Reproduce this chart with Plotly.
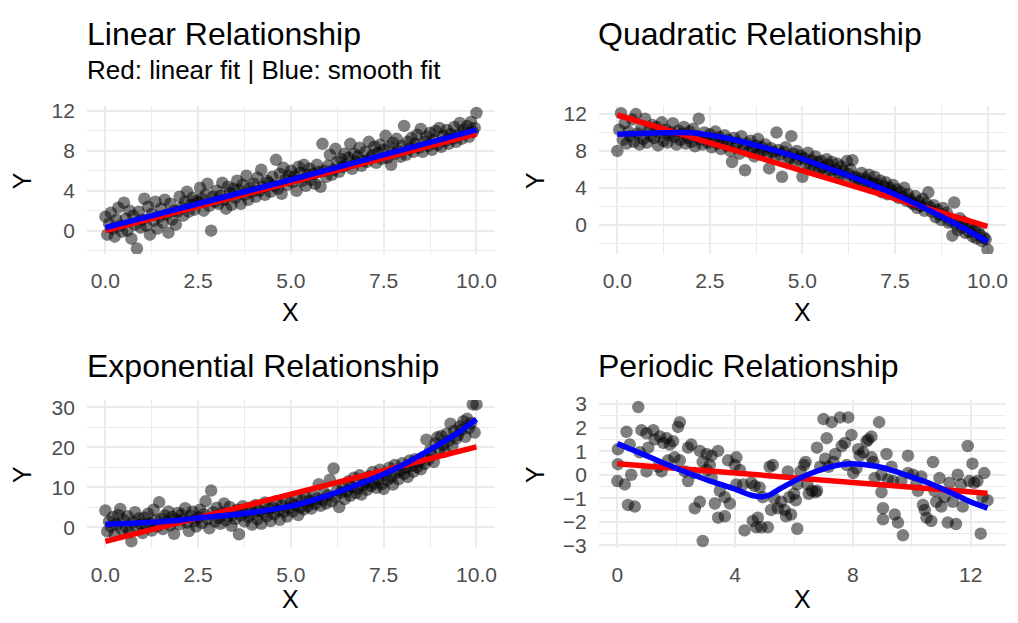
import plotly.graph_objects as go

FONT = "Liberation Sans, Arial, Helvetica, sans-serif"
W, H = 1018, 623

# ---------------- data ----------------
x_grid = [
    0.00, 0.05, 0.10, 0.15, 0.20, 0.25, 0.30, 0.35, 0.40, 0.45,
    0.50, 0.55, 0.60, 0.65, 0.70, 0.75, 0.80, 0.85, 0.90, 0.95,
    1.00, 1.05, 1.10, 1.15, 1.20, 1.25, 1.30, 1.35, 1.40, 1.45,
    1.50, 1.55, 1.60, 1.65, 1.70, 1.75, 1.80, 1.85, 1.90, 1.95,
    2.00, 2.05, 2.10, 2.15, 2.20, 2.25, 2.30, 2.35, 2.40, 2.45,
    2.50, 2.55, 2.60, 2.65, 2.70, 2.75, 2.80, 2.85, 2.90, 2.95,
    3.00, 3.05, 3.10, 3.15, 3.20, 3.25, 3.30, 3.35, 3.40, 3.45,
    3.50, 3.55, 3.60, 3.65, 3.70, 3.75, 3.80, 3.85, 3.90, 3.95,
    4.00, 4.05, 4.10, 4.15, 4.20, 4.25, 4.30, 4.35, 4.40, 4.45,
    4.50, 4.55, 4.60, 4.65, 4.70, 4.75, 4.80, 4.85, 4.90, 4.95,
    5.00, 5.05, 5.10, 5.15, 5.20, 5.25, 5.30, 5.35, 5.40, 5.45,
    5.50, 5.55, 5.60, 5.65, 5.70, 5.75, 5.80, 5.85, 5.90, 5.95,
    6.00, 6.05, 6.10, 6.15, 6.20, 6.25, 6.30, 6.35, 6.40, 6.45,
    6.50, 6.55, 6.60, 6.65, 6.70, 6.75, 6.80, 6.85, 6.90, 6.95,
    7.00, 7.05, 7.10, 7.15, 7.20, 7.25, 7.30, 7.35, 7.40, 7.45,
    7.50, 7.55, 7.60, 7.65, 7.70, 7.75, 7.80, 7.85, 7.90, 7.95,
    8.00, 8.05, 8.10, 8.15, 8.20, 8.25, 8.30, 8.35, 8.40, 8.45,
    8.50, 8.55, 8.60, 8.65, 8.70, 8.75, 8.80, 8.85, 8.90, 8.95,
    9.00, 9.05, 9.10, 9.15, 9.20, 9.25, 9.30, 9.35, 9.40, 9.45,
    9.50, 9.55, 9.60, 9.65, 9.70, 9.75, 9.80, 9.85, 9.90, 9.95,
    10.00,
]

y_linear = [
    1.4, -0.4, 0.7, 1.8, 0.2, -0.6, 1.1, 2.3, 0.5, -0.1,
    2.8, 1.2, 0.0, 2.0, -0.8, 1.5, 0.6, -1.8, 1.9, 0.3,
    1.1, 3.2, 0.5, 2.4, -0.4, 1.7, 1.0, 2.9, 0.2, 1.4,
    2.2, 0.8, 3.1, 1.6, -0.2, 2.7, 1.1, 2.0, 0.6, 1.9,
    3.4, 2.3, 1.5, 2.9, 3.9, 1.9, 2.6, 3.3, 2.1, 3.0,
    2.8, 4.3, 3.2, 2.0, 3.6, 4.7, 2.5, 0.0, 3.4, 2.9,
    4.0, 2.7, 3.5, 4.8, 3.1, 2.2, 4.4, 3.8, 2.6, 4.2,
    3.3, 5.0, 4.1, 2.7, 4.6, 3.6, 5.5, 3.1, 4.3, 3.9,
    4.7, 3.4, 5.3, 4.0, 6.1, 4.4, 3.6, 5.0, 4.8, 3.9,
    5.4, 4.5, 7.1, 4.2, 5.7, 3.7, 6.3, 5.1, 4.6, 5.5,
    6.0, 4.9, 5.4, 4.0, 6.4, 5.8, 5.0, 6.6, 4.5, 5.6,
    6.2, 5.1, 5.7, 4.7, 6.6, 5.9, 4.4, 8.7, 6.0, 5.4,
    6.5, 7.6, 5.6, 6.1, 8.2, 6.9, 5.9, 7.2, 6.4, 7.7,
    6.6, 7.3, 8.7, 6.2, 7.7, 6.9, 7.4, 8.3, 6.5, 7.0,
    7.9, 6.9, 8.9, 7.3, 7.6, 8.4, 6.8, 7.8, 8.6, 7.2,
    8.1, 9.5, 7.3, 8.4, 6.6, 8.8, 7.7, 9.2, 8.0, 7.4,
    8.5, 10.5, 7.6, 8.9, 8.2, 9.3, 7.9, 8.7, 9.6, 8.3,
    10.2, 7.9, 8.9, 9.4, 8.5, 9.8, 8.1, 9.1, 10.0, 8.6,
    10.3, 8.4, 9.5, 9.0, 10.1, 8.7, 9.7, 9.2, 10.4, 8.9,
    9.6, 10.8, 9.2, 10.1, 9.8, 10.5, 9.4, 10.9, 9.9, 10.3,
    11.8,
]

y_quadratic = [
    8.0, 10.3, 12.1, 9.2, 11.0, 8.8, 10.1, 9.6, 11.4, 9.0,
    12.0, 9.9, 8.7, 10.5, 9.3, 11.5, 8.9, 10.2, 9.6, 10.8,
    9.4, 10.6, 8.6, 9.9, 11.1, 9.1, 10.3, 8.9, 9.7, 10.0,
    11.0, 9.5, 8.7, 10.2, 9.2, 9.9, 10.6, 8.8, 9.4, 10.1,
    9.0, 10.4, 8.5, 9.6, 11.5, 9.2, 8.7, 10.0, 9.4, 8.9,
    9.8, 8.4, 9.3, 10.1, 8.8, 9.5, 8.2, 9.0, 9.7, 8.6,
    9.2, 8.0, 6.8, 9.4, 8.5, 8.9, 7.7, 9.6, 8.3, 5.9,
    8.8, 7.9, 9.1, 8.2, 7.4, 8.6, 9.3, 7.8, 8.4, 8.0,
    8.7, 7.5, 6.1, 8.3, 7.9, 7.2, 10.0, 8.1, 7.6, 5.2,
    7.9, 8.4, 6.9, 7.3, 9.6, 7.7, 6.6, 8.0, 7.1, 7.5,
    5.2, 7.2, 6.6, 7.8, 6.3, 7.0, 6.1, 7.4, 6.8, 5.9,
    6.9, 6.2, 5.6, 7.1, 6.5, 5.9, 6.8, 5.3, 6.0, 6.6,
    5.4, 6.3, 5.8, 4.9, 6.9, 5.5, 6.0, 7.0, 5.2, 4.8,
    5.1, 4.6, 5.6, 4.3, 5.0, 4.7, 5.4, 4.0, 4.5, 5.2,
    4.4, 3.9, 4.8, 3.5, 4.2, 4.6, 3.3, 4.0, 3.7, 4.3,
    3.2, 3.8, 2.9, 3.5, 3.0, 4.0, 2.6, 3.3, 2.8, 2.4,
    2.2, 3.1, 1.8, 2.5, 2.0, 2.8, 1.5, 2.3, 3.5, 1.9,
    1.4, 2.1, 0.8, 1.6, 1.1, 0.5, 1.8, 0.9, 1.3, 0.2,
    0.4, -1.2, 2.4, 0.0, -0.6, 0.7, -0.3, 0.3, -0.9, 0.1,
    -0.8, -0.2, -1.3, -0.6, -1.5, -0.4, -1.1, -1.8, -1.4, -1.6,
    -2.7,
]

y_exponential = [
    4.2, -1.0, 1.5, 0.2, 2.6, -1.8, 0.8, 3.1, 4.6, -0.5,
    1.9, 0.0, 2.8, -1.2, -3.5, 1.3, 3.8, -0.6, 2.2, 0.9,
    -1.4, 2.5, 0.6, 3.4, 1.0, -0.8, 4.4, 1.8, 0.3, 6.3,
    2.1, -0.4, 3.0, 1.4, 4.0, 0.5, 2.6, -1.6, 1.9, 3.6,
    0.8, 3.2, 2.0, 4.8, 1.2, -0.9, 2.9, 3.9, 1.6, 0.2,
    2.5, 4.4, 1.1, 3.3, 6.5, 2.0, -0.2, 9.2, 3.8, 1.5,
    4.9, 2.4, 0.9, 3.6, 6.0, 1.8, 2.9, 5.1, 0.4, 3.2,
    2.1, 4.4, -1.7, 3.0, 5.3, 1.5, 3.8, 2.6, 4.9, 0.7,
    3.4, 5.6, 2.0, 4.1, 0.9, 3.7, 6.2, 2.8, 4.6, 1.6,
    5.0, 3.3, 6.5, 4.2, 1.9, 5.5, 3.9, 6.9, 2.7, 4.8,
    6.2, 4.0, 5.6, 7.4, 3.1, 5.0, 6.8, 4.5, 7.7, 5.3,
    6.6, 4.7, 8.1, 5.9, 7.2, 10.8, 5.4, 6.9, 8.6, 6.0,
    8.0, 11.9, 6.5, 14.7, 7.6, 9.3, 5.1, 8.7, 10.2, 7.1,
    9.0, 11.5, 7.9, 10.1, 12.4, 8.6, 9.7, 13.0, 8.2, 10.6,
    11.2, 9.4, 12.7, 10.3, 13.8, 11.0, 9.9, 12.1, 14.4, 10.8,
    9.6, 13.2, 11.8, 14.9, 12.5, 10.7, 15.6, 13.6, 12.0, 14.2,
    16.0, 13.4, 14.8, 12.6, 16.7, 15.3, 13.9, 17.0, 15.0, 16.4,
    14.5, 17.5, 15.8, 21.9, 16.9, 19.2, 18.1, 16.3, 21.0, 22.5,
    19.6, 22.8, 20.5, 18.9, 23.4, 21.6, 25.9, 20.3, 24.1, 22.2,
    23.0, 25.2, 24.4, 26.5, 22.6, 27.1, 24.8, 26.0, 30.7, 23.7,
    30.7,
]

x_periodic = [
    0.71, 0.31, 0.02, 0.02, 0.00, 0.25, 0.47, 0.42, 0.36, 0.59,
    0.82, 0.99, 1.05, 1.22, 1.27, 0.99, 0.76, 1.45, 1.56, 1.67,
    1.78, 1.50, 1.39, 1.72, 1.89, 2.06, 2.12, 1.94, 2.12, 2.29,
    2.40, 2.51, 2.63, 2.40, 2.80, 2.90, 3.03, 3.14, 3.20, 3.42,
    2.63, 2.80, 2.90, 3.03, 3.20, 3.31, 3.42, 3.65, 3.48, 3.65,
    3.82, 3.76, 4.04, 3.99, 4.16, 4.04, 4.27, 4.32, 4.55, 4.66,
    4.60, 4.77, 4.72, 4.89, 5.11, 4.83, 4.94, 5.17, 5.28, 5.22,
    5.33, 5.45, 5.56, 5.68, 5.73, 5.79, 5.84, 5.90, 6.00, 6.06,
    6.11, 6.11, 6.22, 6.34, 6.39, 6.45, 6.50, 6.61, 6.73, 6.78,
    6.78, 6.89, 7.00, 7.06, 7.11, 7.17, 7.28, 7.34, 7.40, 7.56,
    7.62, 7.73, 7.79, 7.84, 7.95, 8.01, 8.12, 8.18, 8.23, 8.35,
    8.46, 8.52, 8.63, 8.63, 8.69, 8.74, 8.89, 8.97, 8.97, 9.02,
    9.02, 9.14, 9.19, 9.31, 9.36, 9.42, 9.53, 9.64, 9.70, 9.87,
    9.87, 10.04, 10.15, 10.21, 10.32, 10.38, 10.44, 10.50, 10.66, 10.72,
    10.77, 10.83, 10.94, 11.00, 11.11, 11.22, 11.28, 11.39, 11.50, 11.56,
    11.67, 11.73, 11.90, 11.95, 12.06, 12.12, 12.23, 12.34, 12.40, 12.46,
    12.57,
]

y_periodic = [
    2.87, 1.82, 1.08, 0.45, -0.27, -0.41, 0.00, 1.28, -1.28, -1.35,
    1.89, 1.76, 1.15, 1.89, 1.50, 0.14, 0.95, 1.62, 1.35, 1.55,
    1.28, 0.14, 0.34, 0.61, 1.42, 2.03, 2.23, 0.74, 0.61, 0.14,
    -0.27, 1.28, 0.07, 1.15, 1.01, 0.54, 0.88, 0.41, 0.81, 1.01,
    -1.42, -1.15, -2.81, 0.20, -0.14, -1.22, -1.82, -1.76, -0.68, -0.95,
    -1.22, 0.61, 0.74, 0.41, 0.20, -0.41, -0.41, -2.36, -0.34, -0.47,
    -1.96, -1.82, -2.23, -2.23, -2.23, -0.54, -0.95, 0.34, 0.41, -1.49,
    -1.01, -1.42, -1.15, -1.49, -1.76, 0.14, -0.95, -1.69, -0.81, -1.08,
    -2.29, -0.41, 0.14, 0.41, 0.54, -0.41, -0.81, -0.68, -0.74, -0.68,
    1.15, 0.34, 2.36, 0.68, 1.55, 0.34, 2.23, 0.54, 0.88, 2.43,
    1.22, 1.35, 0.41, 2.43, 1.69, 0.07, 0.27, 1.08, 0.81, 0.95,
    1.42, 1.49, 1.62, 0.74, 0.54, -0.14, 2.23, 0.00, -0.74, -1.42,
    -1.89, 0.88, -0.20, 0.34, -0.27, -1.69, -2.03, -0.27, -2.57, 0.81,
    0.07, 0.00, -0.41, -0.68, -0.07, -1.28, -1.49, -1.82, -1.96, 0.54,
    -0.68, -1.15, -0.14, -1.35, -0.95, -2.03, -0.34, -1.15, -2.09, 0.00,
    -0.41, -1.35, 1.22, -0.27, 0.47, -0.34, -0.27, -2.50, -0.95, 0.07,
    -1.08,
]

# fitted lines (red = linear fit, blue = smooth fit)
lin_fit_x = [0, 10]
lin_fit_y = [0.0, 9.7]
lin_smooth_x = [0, 2.5, 5, 7.5, 10]
lin_smooth_y = [0.3, 2.7, 5.1, 7.6, 10.1]

quad_fit_x = [0, 10]
quad_fit_y = [11.9, -0.2]
quad_smooth_x = [0, 1, 2, 3, 3.75, 5, 5.55, 6.5, 7.35, 8.2, 9.15, 10]
quad_smooth_y = [9.8, 9.95, 9.98, 9.35, 8.6, 7.15, 6.34, 4.95, 3.55, 2.0, 0.07, -1.85]

exp_fit_x = [0, 10]
exp_fit_y = [-3.5, 20.1]
exp_smooth_x = [0, 1, 2, 2.5, 3, 4, 5, 6, 7, 7.5, 8, 8.75, 9.5, 10]
exp_smooth_y = [0.74, 1.15, 1.8, 2.4, 2.8, 3.8, 5.3, 8.0, 11.4, 13.3, 15.5, 19.4, 23.6, 27.0]

per_fit_x = [0, 12.57]
per_fit_y = [0.47, -0.78]
per_smooth_x = [0, 0.5, 1, 1.5, 2, 2.5, 3, 3.5, 4.0, 4.3, 4.55, 4.87, 5.15, 5.56, 6.0, 6.5,
                7.0, 7.5, 7.9, 8.3, 8.8, 9.3, 9.9, 10.4, 10.9, 11.5, 12.0, 12.57]
per_smooth_y = [1.32, 1.06, 0.80, 0.53, 0.27, 0.03, -0.20, -0.41, -0.61, -0.76, -0.87, -0.93,
                -0.87, -0.57, -0.27, 0.02, 0.25, 0.41, 0.47, 0.45, 0.36, 0.20, -0.05, -0.27,
                -0.52, -0.86, -1.15, -1.42]

# tick labels
ticks_x10 = [0, 2.5, 5, 7.5, 10]
ticks_x10_text = ["0.0", "2.5", "5.0", "7.5", "10.0"]
ticks_y12 = [0, 4, 8, 12]
ticks_y30 = [0, 10, 20, 30]
ticks_xper = [0, 4, 8, 12]
ticks_yper = [-3, -2, -1, 0, 1, 2, 3]
ticks_yper_text = ["\u22123", "\u22122", "\u22121", "0", "1", "2", "3"]

# ---------------- layout geometry ----------------
col_dom = [[87 / W, 496 / W], [600 / W, 1008 / W]]
row_dom = [[1 - 253 / H, 1 - 101 / H], [1 - 555 / H, 1 - 403 / H]]

panels = [
    dict(x=x_grid, y=y_linear, fx=lin_fit_x, fy=lin_fit_y, sx=lin_smooth_x, sy=lin_smooth_y,
         row=0, col=0, xr=[-0.5, 10.5], yr=[-2.35, 12.47],
         xt=ticks_x10, xtt=ticks_x10_text, xm=[1.25, 3.75, 6.25, 8.75],
         yt=ticks_y12, ytt=[str(v) for v in ticks_y12], ym=[-2, 2, 6, 10]),
    dict(x=x_grid, y=y_quadratic, fx=quad_fit_x, fy=quad_fit_y, sx=quad_smooth_x, sy=quad_smooth_y,
         row=0, col=1, xr=[-0.5, 10.5], yr=[-3.2, 12.85],
         xt=ticks_x10, xtt=ticks_x10_text, xm=[1.25, 3.75, 6.25, 8.75],
         yt=ticks_y12, ytt=[str(v) for v in ticks_y12], ym=[-2, 2, 6, 10]),
    dict(x=x_grid, y=y_exponential, fx=exp_fit_x, fy=exp_fit_y, sx=exp_smooth_x, sy=exp_smooth_y,
         row=1, col=0, xr=[-0.5, 10.5], yr=[-5.1, 31.8],
         xt=ticks_x10, xtt=ticks_x10_text, xm=[1.25, 3.75, 6.25, 8.75],
         yt=ticks_y30, ytt=[str(v) for v in ticks_y30], ym=[-5, 5, 15, 25]),
    dict(x=x_periodic, y=y_periodic, fx=per_fit_x, fy=per_fit_y, sx=per_smooth_x, sy=per_smooth_y,
         row=1, col=1, xr=[-0.63, 13.2], yr=[-3.1, 3.17],
         xt=ticks_xper, xtt=[str(v) for v in ticks_xper], xm=[2, 6, 10],
         yt=ticks_yper, ytt=ticks_yper_text, ym=[-2.5, -1.5, -0.5, 0.5, 1.5, 2.5]),
]

GRID = "#EBEBEB"
TICKFONT = dict(family=FONT, size=21, color="#4D4D4D")

fig = go.Figure()
layout_axes = {}
for i, p in enumerate(panels, start=1):
    xa = "x" if i == 1 else f"x{i}"
    ya = "y" if i == 1 else f"y{i}"
    fig.add_trace(go.Scatter(
        x=p["x"], y=p["y"], mode="markers", xaxis=xa, yaxis=ya,
        marker=dict(size=12.5, color="rgba(0,0,0,0.5)", line=dict(width=0)),
        showlegend=False, hoverinfo="x+y"))
    fig.add_trace(go.Scatter(
        x=p["fx"], y=p["fy"], mode="lines", xaxis=xa, yaxis=ya,
        line=dict(color="#FF0000", width=5.5), showlegend=False))
    fig.add_trace(go.Scatter(
        x=p["sx"], y=p["sy"], mode="lines", xaxis=xa, yaxis=ya,
        line=dict(color="#0000FF", width=5.5, shape="spline", smoothing=0.6),
        showlegend=False))

    xkey = "xaxis" if i == 1 else f"xaxis{i}"
    ykey = "yaxis" if i == 1 else f"yaxis{i}"
    layout_axes[xkey] = dict(
        domain=col_dom[p["col"]], anchor=ya, range=p["xr"], autorange=False,
        tickmode="array", tickvals=p["xt"], ticktext=p["xtt"],
        showgrid=True, gridcolor=GRID, gridwidth=2.2, zeroline=False, showline=False,
        ticks="", tickfont=TICKFONT, ticklabelstandoff=12,
        minor=dict(tickmode="array", tickvals=p["xm"], showgrid=True, gridcolor=GRID, gridwidth=1.2, ticks=""),
        fixedrange=True)
    layout_axes[ykey] = dict(
        domain=row_dom[p["row"]], anchor=xa, range=p["yr"], autorange=False,
        tickmode="array", tickvals=p["yt"], ticktext=p["ytt"],
        showgrid=True, gridcolor=GRID, gridwidth=2.2, zeroline=False, showline=False,
        ticks="", tickfont=TICKFONT, ticklabelstandoff=11,
        minor=dict(tickmode="array", tickvals=p["ym"], showgrid=True, gridcolor=GRID, gridwidth=1.2, ticks=""),
        fixedrange=True)

def ann(text, px, py, size, xanchor="left", yanchor="middle", angle=0, color="#000000"):
    return dict(text=text, x=px / W, y=1 - py / H, xref="paper", yref="paper",
                xanchor=xanchor, yanchor=yanchor, showarrow=False, textangle=angle,
                borderpad=0, font=dict(family=FONT, size=size, color=color))

annotations = [
    ann("Linear Relationship", 86, 27, 32),
    ann("Red: linear fit | Blue: smooth fit", 86, 64, 26),
    ann("Quadratic Relationship", 598, 27, 32),
    ann("Exponential Relationship", 86, 368, 32),
    ann("Periodic Relationship", 598, 368, 32),
    ann("X", 291.5, 313, 25, xanchor="center"),
    ann("X", 804, 313, 25, xanchor="center"),
    ann("X", 291.5, 623, 25, xanchor="center", yanchor="bottom"),
    ann("X", 804, 623, 25, xanchor="center", yanchor="bottom"),
    ann("Y", 22, 177, 25, xanchor="center", angle=-90),
    ann("Y", 536, 177, 25, xanchor="center", angle=-90),
    ann("Y", 22, 479, 25, xanchor="center", angle=-90),
    ann("Y", 536, 479, 25, xanchor="center", angle=-90),
]

fig.update_layout(
    width=W, height=H, margin=dict(l=0, r=0, t=0, b=0),
    paper_bgcolor="white", plot_bgcolor="white",
    font=dict(family=FONT, color="#000000"),
    annotations=annotations, showlegend=False,
    **layout_axes,
)

fig.write_html("out.html", config={"displayModeBar": False})
